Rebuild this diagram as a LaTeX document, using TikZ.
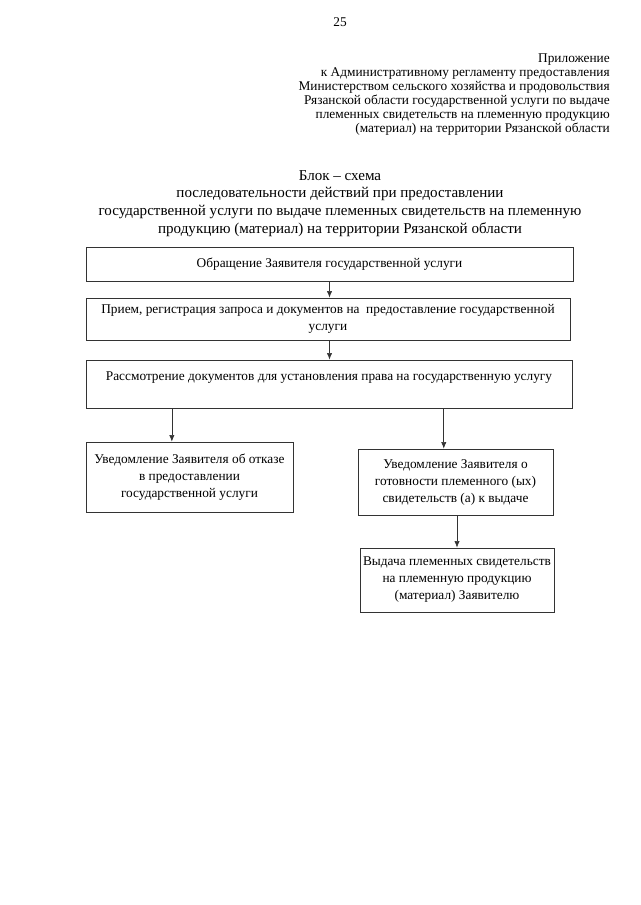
\documentclass[tikz,border=0pt]{standalone}
\usepackage{fontspec}
\setmainfont{Liberation Serif}
\usetikzlibrary{positioning,calc,arrows.meta}

\begin{document}
\begin{tikzpicture}[x=0.75pt,y=-0.75pt]
        \tikzstyle{blk}=[draw=black!80, line width=0.5pt, inner sep=0pt, align=center, font=\fontsize{10}{12.75}\selectfont]
        \tikzstyle{arr}=[draw=black!80, line width=0.5pt, -{Latex[length=5pt,width=4pt]}]

        \useasboundingbox (0,0) rectangle (640,905);

        \node[font=\fontsize{10}{12}\selectfont] (pg) at (340,22) {25};
        \node[anchor=north east, inner sep=0pt, align=right, font=\fontsize{10}{10.5}\selectfont] (hdr) at (610,54)
            {Приложение\\
             к Административному регламенту предоставления\\
             Министерством сельского хозяйства и продовольствия\\
             Рязанской области государственной услуги по выдаче\\
             племенных свидетельств на племенную продукцию\\
             (материал) на территории Рязанской области};
        \node[anchor=north, inner sep=0pt, align=center, font=\fontsize{11.3}{13.3}\selectfont] (ttl) at (340,170)
            {Блок – схема\\
             последовательности действий при предоставлении\\
             государственной услуги по выдаче племенных свидетельств на племенную\\
             продукцию (материал) на территории Рязанской области};

        \node[blk, minimum width=365.25pt, minimum height=25.5pt] (b1) at (329.5,264)
            {Обращение Заявителя государственной услуги};
        \node[blk, minimum width=363pt, minimum height=31.5pt] (b2) at (328,319)
            {Прием, регистрация запроса и документов на \ предоставление государственной\\ услуги};
        \node[blk, minimum width=364.5pt, minimum height=36pt, text depth=12pt] (b3) at (329,384)
            {Рассмотрение документов для установления права на государственную услугу};
        \node[blk, minimum width=155.25pt, minimum height=52.5pt] (b4) at (189.5,477)
            {Уведомление Заявителя об отказе\\ в предоставлении\\ государственной услуги};
        \node[blk, minimum width=146.25pt, minimum height=49.5pt] (b5) at (455.5,482)
            {Уведомление Заявителя о\\ готовности племенного (ых)\\ свидетельств (а) к выдаче};
        \node[blk, minimum width=145.5pt, minimum height=48pt] (b6) at (457,580)
            {Выдача племенных свидетельств\\ на племенную продукцию\\ (материал) Заявителю};

        \coordinate (l) at ($(b4.north west)!.415!(b4.north east)$);
        \coordinate (r) at ($(b5.north west)!.44!(b5.north east)$);

        \draw[arr] (b1.south) -- (b1.south |- b2.north);
        \draw[arr] (b2.south -| b1.south) -- (b1.south |- b3.north);
        \draw[arr] (b3.south -| l) -- (l);
        \draw[arr] (b3.south -| r) -- (r);
        \draw[arr] (b5.south -| b6.north) -- (b6.north);
    \end{tikzpicture}
\end{document}
